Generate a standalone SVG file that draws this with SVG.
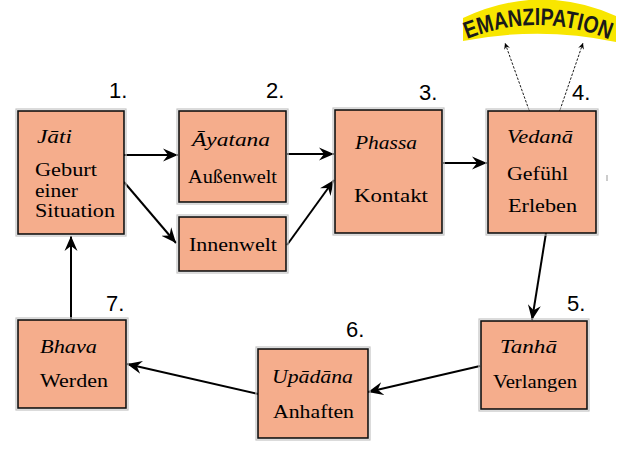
<svg xmlns="http://www.w3.org/2000/svg" width="620" height="455" viewBox="0 0 620 455">
<style>
.box{fill:#f5ad8c;stroke:#111;stroke-width:1.6}
.halo{fill:none;stroke:#c4c4c4;stroke-width:1.2}
.num{font-family:"Liberation Sans","DejaVu Sans",sans-serif;font-size:22px;fill:#000}
.c{fill:none;stroke:#000;stroke-width:2}
.d{fill:none;stroke:#000;stroke-width:0.9;stroke-dasharray:2.5,1.5}
</style>
<defs>
<marker id="ah" markerUnits="userSpaceOnUse" viewBox="-15 -7 16 14" refX="0" refY="0" markerWidth="16" markerHeight="14" orient="auto">
<path d="M0,0 L-15,-6.5 L-10,0 L-15,6.5 Z" fill="#000"/>
</marker>
<marker id="sm" markerUnits="userSpaceOnUse" viewBox="-6 -4 7 8" refX="0" refY="0" markerWidth="7" markerHeight="8" orient="auto">
<path d="M0,0 L-6,-3 L-4,0 L-6,3 Z" fill="#000"/>
</marker>
<path id="arc" d="M467,39 Q540,10 613,41"/>
</defs>

<g id="emanzipation">
<path d="M463,18 Q540,-18 616,16 L616,42 Q540,26 463,41 Z" fill="#f8e600"/>
<text font-family="Liberation Sans,DejaVu Sans,sans-serif" font-weight="bold" font-size="24" fill="#1a1a1a"><textPath href="#arc" textLength="146" lengthAdjust="spacingAndGlyphs">EMANZIPATION</textPath></text>
</g>

<g id="connectors">
<line class="c" x1="124" y1="155" x2="178" y2="155" marker-end="url(#ah)"/>
<line class="c" x1="124" y1="182" x2="176" y2="243" marker-end="url(#ah)"/>
<line class="c" x1="287" y1="154" x2="334" y2="154" marker-end="url(#ah)"/>
<line class="c" x1="287" y1="245" x2="334" y2="180" marker-end="url(#ah)"/>
<line class="c" x1="443" y1="163" x2="487" y2="163" marker-end="url(#ah)"/>
<line class="c" x1="546" y1="233" x2="532" y2="320" stroke-width="3" marker-end="url(#ah)"/>
<line class="c" x1="480" y1="366" x2="368" y2="392" marker-end="url(#ah)"/>
<line class="c" x1="258" y1="394" x2="127" y2="364" marker-end="url(#ah)"/>
<line class="c" x1="71" y1="319" x2="71" y2="236" marker-end="url(#ah)"/>
<line class="d" x1="529" y1="110" x2="505" y2="43" marker-end="url(#sm)" marker-start="url(#sm)"/>
<line class="d" x1="560" y1="110" x2="583" y2="43" marker-end="url(#sm)" marker-start="url(#sm)"/>
</g>

<g font-family="Liberation Serif, DejaVu Serif, serif" font-size="18.5" fill="#000">
<g id="n1">
<rect class="halo" x="16" y="109" width="110" height="127"/>
<rect class="box" x="18" y="111" width="106" height="123"/>
<text font-style="italic" x="37" y="143" textLength="35" lengthAdjust="spacingAndGlyphs">Jāti</text>
<text x="35" y="176" textLength="62" lengthAdjust="spacingAndGlyphs">Geburt</text>
<text x="35" y="197" textLength="43" lengthAdjust="spacingAndGlyphs">einer</text>
<text x="35" y="217" textLength="80" lengthAdjust="spacingAndGlyphs">Situation</text>
<text class="num" x="109" y="98">1.</text>
</g>

<g id="n2">
<rect class="halo" x="177" y="109" width="111" height="95"/>
<rect class="box" x="179" y="111" width="107" height="91"/>
<text font-style="italic" x="192" y="146" textLength="78" lengthAdjust="spacingAndGlyphs">Āyatana</text>
<text x="188" y="183" textLength="89" lengthAdjust="spacingAndGlyphs">Außenwelt</text>
<text class="num" x="266" y="98">2.</text>
</g>

<g id="n2b">
<rect class="halo" x="177" y="215" width="111" height="58"/>
<rect class="box" x="179" y="217" width="107" height="54"/>
<text x="189" y="251" textLength="88" lengthAdjust="spacingAndGlyphs">Innenwelt</text>
</g>

<g id="n3">
<rect class="halo" x="333" y="108" width="111" height="127"/>
<rect class="box" x="335" y="110" width="107" height="123"/>
<text font-style="italic" x="355" y="149" textLength="62" lengthAdjust="spacingAndGlyphs">Phassa</text>
<text x="354" y="202" textLength="74" lengthAdjust="spacingAndGlyphs">Kontakt</text>
<text class="num" x="419" y="100">3.</text>
</g>

<g id="n4">
<rect class="halo" x="486" y="109" width="112" height="126"/>
<rect class="box" x="488" y="111" width="108" height="122"/>
<text font-style="italic" x="507" y="143" textLength="66" lengthAdjust="spacingAndGlyphs">Vedanā</text>
<text x="507" y="180" textLength="61" lengthAdjust="spacingAndGlyphs">Gefühl</text>
<text x="508" y="212" textLength="69" lengthAdjust="spacingAndGlyphs">Erleben</text>
<text class="num" x="572" y="100">4.</text>
</g>

<g id="n5">
<rect class="halo" x="479" y="319" width="110" height="92"/>
<rect class="box" x="481" y="321" width="106" height="88"/>
<text font-style="italic" x="500" y="353" textLength="57" lengthAdjust="spacingAndGlyphs">Tanhā</text>
<text x="493" y="388" textLength="84" lengthAdjust="spacingAndGlyphs">Verlangen</text>
<text class="num" x="567" y="311">5.</text>
</g>

<g id="n6">
<rect class="halo" x="256" y="347" width="114" height="93"/>
<rect class="box" x="258" y="349" width="110" height="89"/>
<text font-style="italic" x="272" y="383" textLength="81" lengthAdjust="spacingAndGlyphs">Upādāna</text>
<text x="273" y="418" textLength="81" lengthAdjust="spacingAndGlyphs">Anhaften</text>
<text class="num" x="346" y="337">6.</text>
</g>

<g id="n7">
<rect class="halo" x="16" y="318" width="112" height="92"/>
<rect class="box" x="18" y="320" width="108" height="88"/>
<text font-style="italic" x="40" y="353" textLength="57" lengthAdjust="spacingAndGlyphs">Bhava</text>
<text x="40" y="387" textLength="68" lengthAdjust="spacingAndGlyphs">Werden</text>
<text class="num" x="106" y="311">7.</text>
</g>
</g>

<line x1="607" y1="175" x2="607" y2="181" stroke="#999" stroke-width="1"/>
</svg>
